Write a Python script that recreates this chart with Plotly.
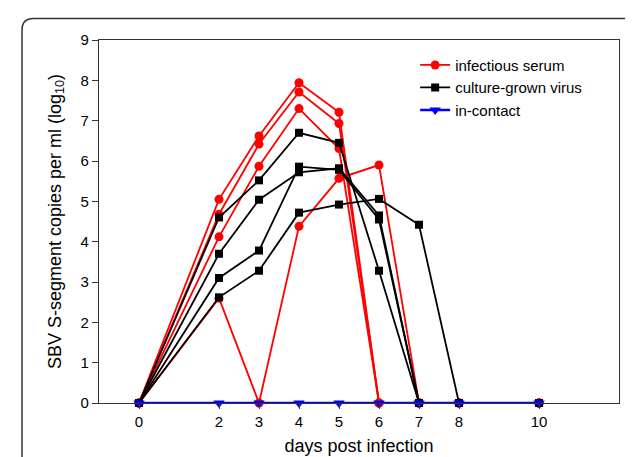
import plotly.graph_objects as go

days = [0, 2, 3, 4, 5, 6, 7, 8, 10]

# infectious serum (log10 copies/ml)
serum_1 = [0, 5.05, 6.62, 7.94, 7.21, 0, 0, 0, 0]
serum_2 = [0, 4.68, 6.42, 7.71, 6.93, 0, 0, 0, 0]
serum_3 = [0, 4.12, 5.87, 7.30, 6.31, 0, 0, 0, 0]
serum_4 = [0, 2.60, 0, 4.38, 5.57, 5.90, 0, 0, 0]

# culture-grown virus
culture_1 = [0, 4.60, 5.52, 6.70, 6.45, 3.28, 0, 0, 0]
culture_2 = [0, 3.70, 5.04, 5.72, 5.82, 4.65, 0, 0, 0]
culture_3 = [0, 3.10, 3.78, 5.86, 5.78, 4.55, 0, 0, 0]
culture_4 = [0, 2.62, 3.28, 4.72, 4.92, 5.06, 4.42, 0, 0]

# in-contact
contact = [0, 0, 0, 0, 0, 0, 0, 0, 0]

serum = [serum_1, serum_2, serum_3, serum_4]
culture = [culture_1, culture_2, culture_3, culture_4]

FONT = "Arial, Liberation Sans, sans-serif"
fig = go.Figure()

for i, s in enumerate(serum):
    fig.add_trace(go.Scatter(
        x=days, y=s, mode="lines+markers", name="infectious serum",
        legendgroup="serum", showlegend=(i == 0), cliponaxis=False,
        line=dict(color="#ff0000", width=1.8),
        marker=dict(symbol="circle", size=9, color="#ff0000"),
    ))
for i, s in enumerate(culture):
    fig.add_trace(go.Scatter(
        x=days, y=s, mode="lines+markers", name="culture-grown virus",
        legendgroup="culture", showlegend=(i == 0), cliponaxis=False,
        line=dict(color="#000000", width=1.8),
        marker=dict(symbol="square", size=8, color="#000000"),
    ))
fig.add_trace(go.Scatter(
    x=days, y=contact, mode="lines+markers", name="in-contact",
    cliponaxis=False,
    line=dict(color="#0000ff", width=2.4),
    marker=dict(symbol="triangle-down", size=10, color="#0000ff"),
))

# outer rounded frame (paper coords)
x0, x1, y0, y1 = -0.148, 1.040, -0.2, 1.059
rx, ry = 0.022, 0.031
path = (f"M {x0+rx},{y1} L {x1-rx},{y1} Q {x1},{y1} {x1},{y1-ry} "
        f"L {x1},{y0} M {x0},{y0} L {x0},{y1-ry} Q {x0},{y1} {x0+rx},{y1}")
fig.add_shape(type="path", xref="paper", yref="paper", path=path,
              line=dict(color="#333333", width=1.5))

fig.update_layout(
    width=633, height=457,
    margin=dict(l=91, r=22, t=32, b=52),
    paper_bgcolor="white", plot_bgcolor="white",
    font=dict(family=FONT, size=15, color="#000000"),
    legend=dict(x=0.608, y=0.976, xanchor="left", yanchor="top",
                bgcolor="rgba(0,0,0,0)", font=dict(size=15),
                tracegroupgap=0, itemwidth=30),
    xaxis=dict(
        range=[-1, 12], tickmode="array", tickvals=days,
        ticktext=[str(d) for d in days],
        showgrid=False, zeroline=False, showline=True, mirror=True,
        linecolor="#333333", linewidth=1.3, ticks="outside", ticklen=5,
        tickcolor="#333333", tickfont=dict(size=15),
        title=dict(text="days post infection", font=dict(size=18), standoff=10),
    ),
    yaxis=dict(
        range=[0, 9], tickmode="array", tickvals=list(range(10)),
        showgrid=False, zeroline=False, showline=True, mirror=True,
        linecolor="#333333", linewidth=1.3, ticks="outside", ticklen=6,
        tickcolor="#333333", tickfont=dict(size=15),
        title=dict(text="SBV S-segment copies per ml (log<sub>10</sub>)",
                   font=dict(size=18), standoff=14),
    ),
)

fig.write_html("out.html")
